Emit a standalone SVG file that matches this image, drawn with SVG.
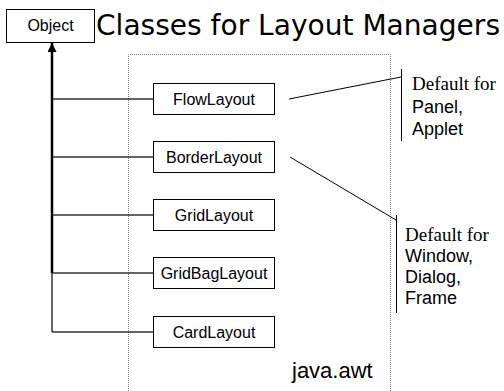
<svg xmlns="http://www.w3.org/2000/svg" width="504" height="391" viewBox="0 0 504 391">
  <style>
    .box { fill: #ffffff; stroke: #000000; stroke-width: 1; }
    .lbl { font-family: "Liberation Sans", Arial, sans-serif; font-size: 16px; fill: #000000; text-anchor: middle; }
    .note { font-family: "Liberation Sans", Arial, sans-serif; font-size: 18px; fill: #000000; }
    .serif { font-family: "Liberation Serif", "Times New Roman", serif; font-size: 19px; fill: #000000; }
    .wire { stroke: #333333; stroke-width: 1.5; fill: none; }
    .pkg { stroke: #808080; stroke-width: 1; stroke-dasharray: 1 1; fill: none; }
    .thin { stroke: #000000; stroke-width: 1; fill: none; }
  </style>
  <defs>
    <marker id="tri" viewBox="0 0 10 10" refX="10" refY="5" markerWidth="10" markerHeight="9" markerUnits="userSpaceOnUse" orient="auto">
      <path d="M0,0 L10,5 L0,10 z" fill="#000000"/>
    </marker>
  </defs>

  <rect width="504" height="391" fill="#ffffff"/>

  <!-- java.awt package outline -->
  <g id="package">
    <path class="pkg" d="M128.5,395 V54.5 H390.5 V395"/>
    <text x="292" y="378" font-family="'Liberation Sans', Arial, sans-serif" font-size="22" fill="#000000">java.awt</text>
  </g>

  <!-- title -->
  <text x="96" y="35" font-family="'DejaVu Sans', Verdana, sans-serif" font-size="28" fill="#000000" textLength="404" lengthAdjust="spacingAndGlyphs">Classes for Layout Managers</text>

  <!-- inheritance connectors -->
  <g id="connectors">
    <path class="wire" d="M52,99 H153 M52,157 H153 M52,215 H153 M52,273 H153 M52,332 H153"/>
    <path class="wire" d="M52,273 V332"/>
    <path d="M52,273 V43" stroke="#000000" stroke-width="2.5" fill="none" marker-end="url(#tri)"/>
    <path class="thin" d="M289,99 L401,77"/>
    <path class="thin" d="M290,157 L396,220"/>
  </g>

  <g id="object">
    <rect class="box" x="6.5" y="9.5" width="88" height="33"/>
    <text class="lbl" x="50.5" y="31" font-size="14.5">Object</text>
  </g>

  <g id="flowlayout">
    <rect class="box" x="153.5" y="83.5" width="121" height="31"/>
    <text class="lbl" x="214" y="105">FlowLayout</text>
  </g>
  <g id="borderlayout">
    <rect class="box" x="153.5" y="141.5" width="121" height="31"/>
    <text class="lbl" x="214" y="163">BorderLayout</text>
  </g>
  <g id="gridlayout">
    <rect class="box" x="153.5" y="199.5" width="121" height="31"/>
    <text class="lbl" x="214" y="221">GridLayout</text>
  </g>
  <g id="gridbaglayout">
    <rect class="box" x="153.5" y="257.5" width="121" height="31"/>
    <text class="lbl" x="214" y="279">GridBagLayout</text>
  </g>
  <g id="cardlayout">
    <rect class="box" x="153.5" y="316.5" width="121" height="31"/>
    <text class="lbl" x="214" y="338">CardLayout</text>
  </g>

  <!-- annotation: panels and applets -->
  <g id="note-panel">
    <path class="thin" d="M401.5,69 V141"/>
    <text class="serif" x="412" y="90">Default for</text>
    <text class="note" x="412" y="113">Panel,</text>
    <text class="note" x="412" y="135">Applet</text>
  </g>

  <!-- annotation: top-level windows -->
  <g id="note-window">
    <path class="thin" d="M396.5,215 V313"/>
    <text class="serif" x="405" y="241">Default for</text>
    <text class="note" x="405" y="262">Window,</text>
    <text class="note" x="405" y="283">Dialog,</text>
    <text class="note" x="405" y="304">Frame</text>
  </g>
</svg>
